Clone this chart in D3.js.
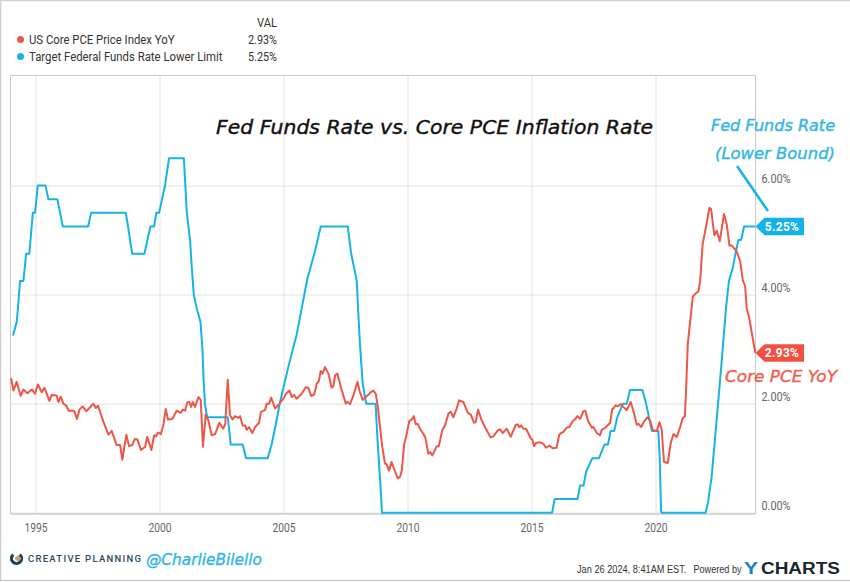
<!DOCTYPE html>
<html>
<head>
<meta charset="utf-8">
<script src="https://cdn.jsdelivr.net/npm/d3@7"></script>
<style>
  html, body { margin: 0; padding: 0; background: #fff; }
  svg { display: block; }
  text { font-family: Roboto, sans-serif; }
</style>
</head>
<body>
<div id="container"></div>
<script>
/* DATA */
const xTicks = [1995, 2000, 2005, 2010, 2015, 2020];
const yTicks = [0, 2, 4, 6];

const fedYears = [1994.09,1994.24,1994.29,1994.375,1994.51,1994.62,1994.75,1994.89,1994.98,1995.09,1995.40,1995.52,1995.88,1995.99,1996.10,1997.12,1997.24,1998.64,1998.73,1998.81,1998.90,1999.39,1999.51,1999.63,1999.78,1999.87,1999.98,2000.10,2000.22,2000.38,2000.98,2001.10,2001.23,2001.30,2001.38,2001.50,2001.65,2001.73,2001.77,2001.83,2001.92,2002.75,2002.87,2003.35,2003.49,2004.36,2004.52,2004.70,2004.86,2005.19,2005.53,2005.96,2006.27,2006.50,2007.59,2007.72,2007.95,2008.01,2008.08,2008.19,2008.33,2008.71,2008.79,2008.92,2008.97,2015.83,2015.93,2016.85,2016.96,2017.10,2017.20,2017.45,2017.72,2017.94,2018.08,2018.19,2018.33,2018.46,2018.68,2018.84,2018.97,2019.47,2019.62,2019.85,2020.11,2020.17,2020.22,2020.24,2022.02,2022.12,2022.26,2022.53,2022.67,2022.84,2022.96,2023.12,2023.22,2023.34,2023.45,2023.57,2024.01];
const fedRates = [3.25,3.5,3.75,4.25,4.25,4.75,4.75,5.5,5.5,6,6,5.75,5.75,5.5,5.25,5.25,5.5,5.5,5.25,5,4.75,4.75,5,5.25,5.25,5.5,5.5,5.75,6,6.5,6.5,5.5,5,4.5,4,3.75,3.5,3,2.5,2,1.75,1.75,1.25,1.25,1,1,1.25,1.65,2.03,2.67,3.27,4.29,4.8,5.25,5.25,4.77,4.26,3.7,3.1,2.37,2,2,1.33,0.4,0,0,0.25,0.25,0.5,0.5,0.75,1,1,1.25,1.25,1.5,1.5,1.75,2,2,2.25,2.25,2,1.5,1.5,1,0.05,0,0,0.2,0.65,2.05,2.8,3.75,4.25,4.5,4.75,5,5,5.25,5.25];

const pceYears = [1994.01,1994.11,1994.24,1994.40,1994.51,1994.67,1994.85,1994.98,1995.09,1995.25,1995.36,1995.56,1995.65,1995.85,1995.92,1996.02,1996.12,1996.23,1996.34,1996.55,1996.67,1996.77,1996.90,1997.04,1997.17,1997.33,1997.43,1997.52,1997.74,1997.94,1998.07,1998.27,1998.41,1998.50,1998.66,1998.77,1998.90,1999.00,1999.11,1999.25,1999.42,1999.50,1999.67,1999.78,1999.86,1999.94,2000.05,2000.15,2000.25,2000.34,2000.52,2000.69,2000.85,2000.94,2001.03,2001.12,2001.20,2001.27,2001.34,2001.43,2001.57,2001.66,2001.75,2001.86,2001.97,2002.10,2002.24,2002.41,2002.57,2002.65,2002.75,2002.84,2002.94,2003.04,2003.18,2003.25,2003.35,2003.45,2003.51,2003.61,2003.74,2003.85,2004.01,2004.09,2004.25,2004.32,2004.42,2004.50,2004.66,2004.82,2004.99,2005.10,2005.24,2005.33,2005.42,2005.53,2005.73,2005.89,2006.00,2006.11,2006.24,2006.34,2006.42,2006.50,2006.57,2006.67,2006.81,2006.94,2007.01,2007.08,2007.17,2007.35,2007.51,2007.57,2007.68,2007.82,2007.98,2008.06,2008.19,2008.29,2008.39,2008.52,2008.62,2008.72,2008.80,2008.89,2008.98,2009.09,2009.16,2009.25,2009.35,2009.50,2009.60,2009.70,2009.77,2009.86,2009.97,2010.07,2010.17,2010.25,2010.33,2010.41,2010.50,2010.71,2010.84,2010.91,2011.00,2011.18,2011.26,2011.40,2011.51,2011.65,2011.74,2011.85,2011.98,2012.08,2012.25,2012.43,2012.55,2012.68,2012.75,2012.84,2012.99,2013.19,2013.35,2013.46,2013.64,2013.73,2013.84,2014.00,2014.16,2014.36,2014.43,2014.51,2014.58,2014.67,2014.78,2014.97,2015.03,2015.10,2015.18,2015.34,2015.48,2015.58,2015.72,2015.85,2016.01,2016.11,2016.18,2016.28,2016.42,2016.53,2016.66,2016.75,2016.85,2016.96,2017.09,2017.17,2017.27,2017.43,2017.49,2017.63,2017.76,2017.83,2017.96,2018.17,2018.25,2018.30,2018.39,2018.46,2018.60,2018.70,2018.84,2019.00,2019.15,2019.24,2019.31,2019.42,2019.55,2019.67,2019.78,2019.89,2020.05,2020.16,2020.25,2020.34,2020.49,2020.61,2020.72,2020.86,2020.99,2021.10,2021.18,2021.23,2021.30,2021.37,2021.50,2021.59,2021.73,2021.80,2021.90,2022.04,2022.17,2022.24,2022.37,2022.47,2022.59,2022.76,2022.87,2022.98,2023.07,2023.25,2023.41,2023.52,2023.61,2023.68,2023.77,2024.02];
const pceRates = [2.47,2.24,2.40,2.14,2.26,2.19,2.26,2.18,2.35,2.21,2.29,2.05,2.16,2.15,2.03,2.13,2.00,1.97,1.87,1.87,1.72,1.89,1.95,1.86,1.92,2.00,1.92,1.96,1.66,1.43,1.50,1.24,1.24,0.97,1.43,1.22,1.24,1.35,1.34,1.15,1.21,1.39,1.15,1.42,1.40,1.47,1.44,1.60,1.90,1.71,1.72,1.87,1.83,1.89,1.87,2.02,2.03,1.94,2.03,1.94,2.12,2.07,1.21,1.79,1.69,1.42,1.44,1.65,1.54,1.63,2.44,1.79,1.71,1.77,1.74,1.77,1.60,1.60,1.52,1.57,1.46,1.57,1.65,1.85,1.88,2.00,2.00,2.11,1.91,1.99,2.09,2.18,2.24,2.12,2.16,2.09,2.18,2.30,2.29,2.14,2.17,2.37,2.41,2.60,2.55,2.67,2.55,2.29,2.32,2.52,2.55,2.24,2.00,2.03,1.99,2.15,2.40,2.24,2.07,2.12,2.15,2.21,2.24,2.18,1.94,1.57,1.21,0.90,0.89,0.77,0.93,0.75,0.63,0.66,0.78,1.24,1.45,1.68,1.71,1.77,1.62,1.63,1.54,1.39,1.08,1.11,1.05,1.22,1.22,1.51,1.60,1.82,1.85,1.75,1.91,2.06,2.03,1.83,1.80,1.65,1.66,1.89,1.69,1.51,1.38,1.40,1.51,1.53,1.46,1.54,1.39,1.61,1.62,1.57,1.60,1.54,1.54,1.36,1.34,1.22,1.28,1.29,1.26,1.19,1.23,1.18,1.19,1.42,1.46,1.48,1.56,1.57,1.68,1.71,1.77,1.72,1.86,1.87,1.69,1.56,1.57,1.46,1.42,1.52,1.55,1.65,1.90,1.91,1.97,1.95,1.99,1.94,1.88,2.03,1.79,1.61,1.63,1.57,1.68,1.75,1.69,1.51,1.50,1.66,1.51,0.93,0.91,1.27,1.44,1.39,1.57,1.74,1.76,2.24,3.10,3.40,3.96,4.01,4.06,4.26,4.93,5.26,5.59,5.57,5.09,5.17,4.98,5.48,5.29,4.90,4.90,4.81,4.62,4.26,4.16,3.74,3.59,2.93];

/* CONSTANTS AND GLOBALS */
const width = 850;
const height = 582;
const margin = { top: 75.5, bottom: 68, left: 10.5, right: 94.5 };
const red = "#ee5648";
const blue = "#17b3e6";
const handFont = "'DejaVu Sans', sans-serif";

/* SCALES */
const xScale = d3.scaleLinear()
  .domain([1993.99, 2024.03])
  .range([margin.left, width - margin.right]);

const yScale = d3.scaleLinear()
  .domain([-0.025, 8.02])
  .range([height - margin.bottom, margin.top]);

/* HTML ELEMENTS */
const svg = d3.select("#container")
  .append("svg")
  .attr("width", width)
  .attr("height", height);

// page border
svg.append("rect")
  .attr("x", 0.5).attr("y", 0.5)
  .attr("width", width + 4).attr("height", height - 2)
  .attr("fill", "none").attr("stroke", "#cfcfcf").attr("stroke-width", 1.5);

// axes + grid
const xAxis = d3.axisBottom(xScale)
  .tickValues(xTicks)
  .tickFormat(d3.format("d"))
  .tickSize(-(height - margin.top - margin.bottom))
  .tickPadding(9);

const yAxis = d3.axisRight(yScale)
  .tickValues(yTicks)
  .tickFormat(d => d3.format(".2f")(d) + "%")
  .tickSize(-(width - margin.left - margin.right))
  .tickPadding(6);

const gx = svg.append("g")
  .attr("transform", `translate(0,${height - margin.bottom})`)
  .call(xAxis);
const gy = svg.append("g")
  .attr("transform", `translate(${width - margin.right},0)`)
  .call(yAxis);

[gx, gy].forEach(g => {
  g.select(".domain").remove();
  g.selectAll(".tick line").attr("stroke", "#e2e2e2").attr("stroke-width", 1);
  g.selectAll(".tick text")
    .attr("fill", "#666")
    .style("font-size", "12px")
    .style("font-family", "Roboto, sans-serif");
});
gx.selectAll(".tick text").attr("textLength", 23).attr("lengthAdjust", "spacingAndGlyphs");
gy.selectAll(".tick text")
  .attr("dy", "-0.25em")
  .attr("textLength", 29)
  .attr("lengthAdjust", "spacingAndGlyphs");

// plot frame
svg.append("path")
  .attr("d", `M${margin.left},${height - margin.bottom}V${margin.top}H${width - margin.right}V${height - margin.bottom}`)
  .attr("fill", "none").attr("stroke", "#c9c9c9").attr("stroke-width", 1);
svg.append("line")
  .attr("x1", margin.left).attr("x2", width - margin.right)
  .attr("y1", height - margin.bottom).attr("y2", height - margin.bottom)
  .attr("stroke", "#cccccc").attr("stroke-width", 1.5);

/* LINES */
const line = d3.line()
  .x(d => xScale(d[0]))
  .y(d => yScale(d[1]));

svg.append("path")
  .datum(d3.zip(fedYears, fedRates))
  .attr("d", line)
  .attr("fill", "none").attr("stroke", blue).attr("stroke-width", 2)
  .attr("stroke-linejoin", "round");

svg.append("path")
  .datum(d3.zip(pceYears, pceRates))
  .attr("d", line)
  .attr("fill", "none").attr("stroke", red).attr("stroke-width", 2)
  .attr("stroke-linejoin", "round");

/* VALUE BADGES */
const badges = [
  { value: fedRates[fedRates.length - 1], color: "#12b2ea" },
  { value: pceRates[pceRates.length - 1], color: "#f4503f" }
];
badges.forEach(b => {
  const y = yScale(b.value);
  const x0 = width - margin.right;
  svg.append("path")
    .attr("d", `M${x0},${y}L${x0 + 9},${y - 8.7}H${x0 + 48.5}V${y + 8.7}H${x0 + 9}Z`)
    .attr("fill", b.color);
  svg.append("text")
    .attr("x", x0 + 26.5).attr("y", y + 4.3)
    .attr("text-anchor", "middle")
    .attr("fill", "#fff")
    .style("font-size", "12px").style("font-weight", 700)
    .style("letter-spacing", "0.3px")
    .text(d3.format(".2f")(b.value) + "%");
});

/* LEGEND */
const legendRows = [
  { label: "US Core PCE Price Index YoY", len: 145.5, value: "2.93%", color: red, y: 39.5 },
  { label: "Target Federal Funds Rate Lower Limit", len: 193.5, value: "5.25%", color: blue, y: 56.5 }
];
function legendText(text, x, y, len) {
  svg.append("text")
    .attr("x", x).attr("y", y)
    .attr("textLength", len).attr("lengthAdjust", "spacingAndGlyphs")
    .attr("fill", "#333").style("font-size", "12px")
    .text(text);
}
legendText("VAL", 257, 26.5, 20);
legendRows.forEach(r => {
  svg.append("circle").attr("cx", 20.5).attr("cy", r.y).attr("r", 3.5).attr("fill", r.color);
  legendText(r.label, 29, r.y + 4.3, r.len);
  legendText(r.value, 248, r.y + 4.3, 29);
});

/* ANNOTATIONS */
function hand(text, x, y, len, size, color, weight) {
  svg.append("text")
    .attr("x", x).attr("y", y)
    .attr("textLength", len).attr("lengthAdjust", "spacingAndGlyphs")
    .attr("fill", color)
    .attr("stroke", color).attr("stroke-width", weight)
    .style("font-family", handFont)
    .style("font-style", "oblique")
    .style("font-size", size + "px")
    .text(text);
}
hand("Fed Funds Rate vs. Core PCE Inflation Rate", 216, 134, 437, 19, "#111", 0.4);
hand("Fed Funds Rate", 711, 131, 124, 15, "#35b5e5", 0.4);
hand("(Lower Bound)", 715, 159, 120, 15, "#35b5e5", 0.4);
hand("Core PCE YoY", 725, 382, 112, 15, "#ee5f52", 0.4);
hand("@CharlieBilello", 146, 565, 116, 16, "#35b5e5", 0.4);

svg.append("line")
  .attr("x1", 737).attr("y1", 166).attr("x2", 768).attr("y2", 211)
  .attr("stroke", blue).attr("stroke-width", 2.5);

/* FOOTER */
// creative planning logo
const logo = svg.append("g").attr("transform", "translate(16.5,558.5)");
logo.append("path")
  .attr("d", d3.arc().innerRadius(3.4).outerRadius(6.6).startAngle(Math.PI * 0.22).endAngle(Math.PI * 1.78)())
  .attr("fill", "#1f4256");
logo.append("path").attr("d", "M1.5,-3.6L5.1,0L1.5,3.6L-2.1,0Z").attr("fill", "#c2a57c");

svg.append("text")
  .attr("x", 28).attr("y", 562.3)
  .attr("textLength", 113).attr("lengthAdjust", "spacing")
  .attr("fill", "#2b4a5c")
  .style("font-size", "9.5px").style("font-weight", 500)
  .text("CREATIVE PLANNING");

// squeeze a footer text into its width so its box really ends there
function fitText(text, x, y, len, size, weight, color) {
  const t = svg.append("text")
    .attr("fill", color)
    .style("font-family", "'Liberation Sans', sans-serif")
    .style("font-size", size + "px")
    .style("font-weight", weight)
    .text(text);
  const k = len / t.node().getComputedTextLength();
  t.attr("transform", `translate(${x},${y}) scale(${k},1)`);
}
fitText("Jan 26 2024, 8:41AM EST.", 577, 573, 109.5, 11.5, 400, "#333");
fitText("Powered by", 693.5, 573, 48, 11.5, 400, "#333");
fitText("Y", 744, 574, 14, 17, 700, "#1a7fc4");
fitText("CHARTS", 761, 574, 79, 17, 700, "#1b2530");
</script>
</body>
</html>
